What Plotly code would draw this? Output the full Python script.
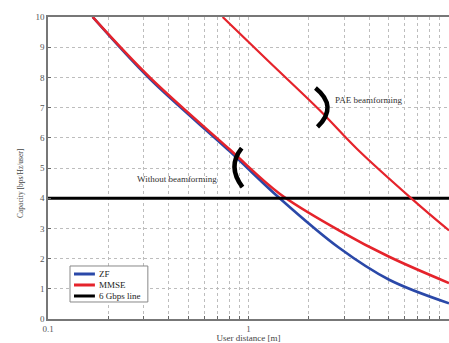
import plotly.graph_objects as go

# ---- data ----
dist_inner = [0.167, 0.322, 0.804, 1.43, 2.84, 5.03, 10.0]
zf_capacity = [10.0, 7.95, 5.56, 4.0, 2.35, 1.30, 0.52]
mmse_capacity = [10.0, 8.0, 5.62, 4.15, 2.93, 2.06, 1.19]

dist_pae = [0.743, 1.27, 2.26, 3.49, 6.55, 10.0]
pae_mmse_capacity = [10.0, 8.51, 6.92, 5.62, 3.97, 2.93]

line_dist = [0.1, 10.0]
gbps_line = [4.0, 4.0]

x_tickvals = [0.1, 0.2, 0.3, 0.4, 0.5, 0.6, 0.7, 0.8, 0.9,
              1, 2, 3, 4, 5, 6, 7, 8, 9, 10]
x_ticktext = ['0.1', '', '', '', '', '', '', '', '',
              '1', '', '', '', '', '', '', '', '', '10']
y_tickvals = [0, 1, 2, 3, 4, 5, 6, 7, 8, 9, 10]

legend_names = ['ZF', 'MMSE', '6 Gbps line']

BLUE = '#2a48a8'
RED = '#e5232b'
legend_colors = [BLUE, RED, 'black']
FONT = 'Liberation Serif'

fig = go.Figure()
fig.add_trace(go.Scatter(x=dist_inner, y=zf_capacity, mode='lines', name=legend_names[0],
                         line=dict(color=BLUE, width=2.6, shape='spline', smoothing=1.0)))
fig.add_trace(go.Scatter(x=dist_inner, y=mmse_capacity, mode='lines', name=legend_names[1],
                         line=dict(color=RED, width=2.6, shape='spline', smoothing=1.0)))
fig.add_trace(go.Scatter(x=line_dist, y=gbps_line, mode='lines', name=legend_names[2],
                         line=dict(color='black', width=3)))
fig.add_trace(go.Scatter(x=dist_pae, y=pae_mmse_capacity, mode='lines',
                         line=dict(color=RED, width=2.2, shape='spline', smoothing=1.0)))

# curved brackets
fig.add_shape(type='path', xref='x domain', yref='y domain',
              path='M 0.667,0.765 Q 0.7245,0.7035 0.672,0.636',
              line=dict(color='black', width=4.5), fillcolor='rgba(0,0,0,0)')
fig.add_shape(type='path', xref='x domain', yref='y domain',
              path='M 0.483,0.566 Q 0.446,0.5045 0.485,0.437',
              line=dict(color='black', width=4.5), fillcolor='rgba(0,0,0,0)')

fig.add_annotation(text='PAE beamforming', xref='paper', yref='paper', x=0.711, y=0.725,
                   xanchor='left', yanchor='middle', showarrow=False,
                   font=dict(family=FONT, size=9, color='#333'))
fig.add_annotation(text='Without beamforming', xref='paper', yref='paper', x=0.217, y=0.464,
                   xanchor='left', yanchor='middle', showarrow=False,
                   font=dict(family=FONT, size=9, color='#333'))

# compact MATLAB-style legend box
fig.add_shape(type='rect', xref='paper', yref='paper', x0=0.0549, x1=0.249, y0=0.0563, y1=0.1755,
              line=dict(color='#888', width=1), fillcolor='white', layer='above')
legend_y = [0.149, 0.1126, 0.0762]
for name, col, yy in zip(legend_names, legend_colors, legend_y):
    fig.add_shape(type='line', xref='paper', yref='paper', x0=0.0648, x1=0.117, y0=yy, y1=yy,
                  line=dict(color=col, width=3), layer='above')
    fig.add_annotation(text=name, xref='paper', yref='paper', x=0.122, y=yy,
                       xanchor='left', yanchor='middle', showarrow=False,
                       font=dict(family=FONT, size=9, color='#222'))

# y-axis title
fig.add_annotation(text='Capacity [bps/Hz/user]', xref='paper', yref='paper', x=-0.07, y=0.45,
                   xanchor='center', yanchor='middle', textangle=-90, showarrow=False,
                   font=dict(family=FONT, size=7.5, color='#444'))

fig.update_layout(
    width=449, height=343,
    margin=dict(l=48, r=0, t=17, b=24),
    paper_bgcolor='white', plot_bgcolor='white',
    font=dict(family=FONT, size=9, color='#444'),
    showlegend=False,
    xaxis=dict(type='log', range=[-1, 1], tickvals=x_tickvals, ticktext=x_ticktext,
               ticks='inside', ticklen=3, tickcolor='#666',
               showgrid=True, gridcolor='#bdbdbd', griddash='dot', gridwidth=1,
               showline=True, linecolor='#777', linewidth=1.5, mirror=True,
               zeroline=False, automargin=False,
               title=dict(text='User distance [m]', standoff=4,
                          font=dict(family=FONT, size=9, color='#444')),
               tickfont=dict(family=FONT, size=9, color='#555')),
    yaxis=dict(range=[0, 10], tickvals=y_tickvals,
               ticks='inside', ticklen=3, tickcolor='#666',
               showgrid=True, gridcolor='#bdbdbd', griddash='dot', gridwidth=1,
               showline=True, linecolor='#777', linewidth=1.5, mirror=True,
               zeroline=False, automargin=False,
               tickfont=dict(family=FONT, size=9, color='#555')),
)

fig.write_html('out.html')
